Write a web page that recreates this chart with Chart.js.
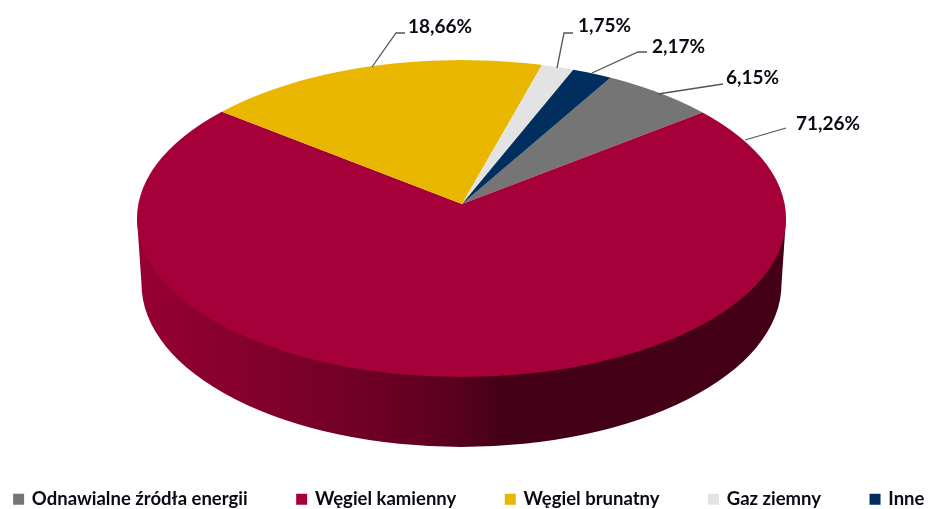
<!DOCTYPE html>
<html>
<head>
<meta charset="utf-8">
<style>
  html, body { margin: 0; padding: 0; background: #fff; }
  #wrap { width: 928px; height: 509px; }
</style>
<script src="https://cdn.jsdelivr.net/npm/chart.js@4"></script>
</head>
<body>
<div id="wrap"><canvas id="energyPie" width="928" height="509"></canvas></div>
<script>
const categories = ['Odnawialne źródła energii', 'Węgiel kamienny', 'Węgiel brunatny', 'Gaz ziemny', 'Inne'];
const shares = [6.15, 71.26, 18.66, 1.75, 2.17];
const sliceColors = ['#757575', '#A6003A', '#EAB700', '#E3E3E3', '#002F5F'];

// leader lines + label spots, in page pixels
const leaders = [
  { pts: [[658, 94], [723, 84]], tx: 726, ty: 78 },
  { pts: [[745, 140], [786, 128]], tx: 796, ty: 124 },
  { pts: [[372, 67], [396, 33], [405, 33]], tx: 408, ty: 27 },
  { pts: [[557, 68], [564, 33], [573, 33]], tx: 578, ty: 26 },
  { pts: [[592, 73], [638, 52], [647, 52]], tx: 652, ty: 47 }
];

// the tilted disc
const top3d = { apexX: 462, apexY: 204, cx: 461.5, cy: 218.5, rx: 324.5, ry: 158.5, tilt: 0.485 };
const base3d = { cx: 461.5, cy: 284, rx: 320, ry: 163 };

const pie3d = {
  id: 'pie3d',
  beforeDatasetsDraw(chart) {
    const ctx = chart.ctx;
    const arcs = chart.getDatasetMeta(0).data;

    // side wall, under the top
    const wall = ctx.createLinearGradient(138, 0, 786, 0);
    wall.addColorStop(0, '#970034');
    wall.addColorStop(0.44, '#640022');
    wall.addColorStop(0.57, '#440017');
    wall.addColorStop(1, '#440017');
    ctx.save();
    ctx.beginPath();
    ctx.moveTo(top3d.cx - top3d.rx, top3d.cy);
    ctx.lineTo(base3d.cx - base3d.rx, base3d.cy);
    ctx.ellipse(base3d.cx, base3d.cy, base3d.rx, base3d.ry, 0, Math.PI, 0, true);
    ctx.lineTo(top3d.cx + top3d.rx, top3d.cy);
    ctx.closePath();
    ctx.fillStyle = wall;
    ctx.fill();
    ctx.restore();

    // top face: the library's own arcs, squashed and cut to the outline
    ctx.save();
    ctx.beginPath();
    ctx.ellipse(top3d.cx, top3d.cy, top3d.rx, top3d.ry, 0, 0, Math.PI * 2);
    ctx.clip();
    ctx.translate(top3d.apexX, top3d.apexY);
    ctx.scale(1, top3d.tilt);
    ctx.translate(-arcs[0].x, -arcs[0].y);
    arcs.forEach(a => a.draw(ctx));
    ctx.restore();

    // labels
    ctx.save();
    ctx.strokeStyle = '#555';
    ctx.lineWidth = 1.3;
    ctx.fillStyle = '#0a0a14';
    ctx.font = 'bold 19px Lato';
    ctx.textBaseline = 'middle';
    ctx.textAlign = 'left';
    leaders.forEach((l, i) => {
      ctx.beginPath();
      l.pts.forEach((p, j) => j ? ctx.lineTo(p[0], p[1]) : ctx.moveTo(p[0], p[1]));
      ctx.stroke();
      ctx.fillText(shares[i].toFixed(2).replace('.', ',') + '%', l.tx, l.ty);
    });
    ctx.restore();
    return false;
  }
};

const energyChart = new Chart(document.getElementById('energyPie'), {
  type: 'pie',
  plugins: [pie3d],
  data: {
    labels: categories,
    datasets: [{
      data: shares,
      backgroundColor: sliceColors,
      borderWidth: 0
    }]
  },
  options: {
    responsive: true,
    maintainAspectRatio: false,
    animation: false,
    events: [],
    radius: 400,
    rotation: 29.7,
    layout: { padding: { left: -55, right: -66, bottom: -9.5 } },
    plugins: {
      tooltip: { enabled: false },
      legend: {
        position: 'bottom',
        labels: {
          boxWidth: 8,
          boxHeight: 8,
          padding: 50,
          color: '#0a0a14',
          font: { family: 'Lato', size: 18.5, weight: 'bold' },
          // small box + thick border, keeps the text close to the box
          generateLabels(chart) {
            return Chart.overrides.doughnut.plugins.legend.labels.generateLabels(chart).map(item => {
              item.strokeStyle = item.fillStyle;
              item.lineWidth = 3;
              return item;
            });
          }
        }
      }
    }
  }
});
</script>
</body>
</html>
